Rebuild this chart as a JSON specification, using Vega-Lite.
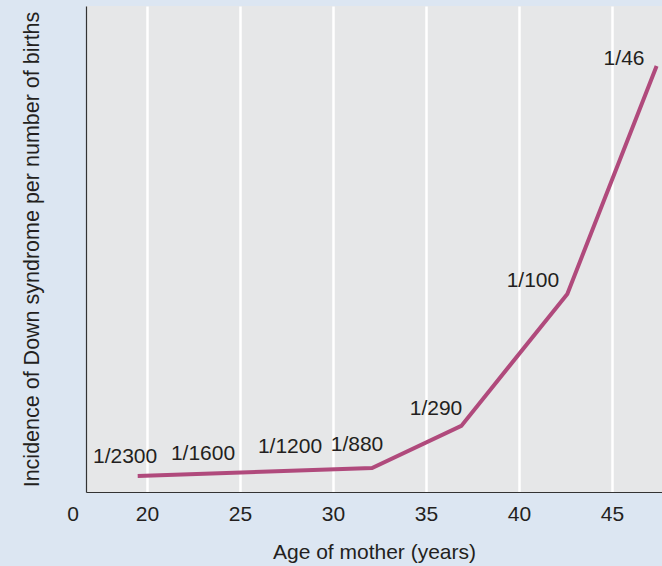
{
  "$schema": "https://vega.github.io/schema/vega-lite/v6.json",
  "width": 576,
  "height": 486,
  "autosize": {"type": "none"},
  "padding": {"left": 86, "top": 6, "right": 0, "bottom": 74},
  "background": "#dce6f2",
  "view": {"fill": "#e6e7e8", "stroke": null},
  "config": {
    "font": "Liberation Sans",
    "axis": {"labelFont": "Liberation Sans", "titleFont": "Liberation Sans", "labelColor": "#231f20", "titleColor": "#231f20", "titleFontWeight": "normal"}
  },
  "datasets": {
    "curve": [
      {"age": 19.5, "incidence": 0.00062},
      {"age": 32.1, "incidence": 0.00103},
      {"age": 36.9, "incidence": 0.0032},
      {"age": 42.6, "incidence": 0.00999},
      {"age": 47.4, "incidence": 0.02171}
    ],
    "labels": [
      {"age": 18.82, "incidence": 0.0016, "label": "1/2300"},
      {"age": 23.01, "incidence": 0.00175, "label": "1/1600"},
      {"age": 27.69, "incidence": 0.00211, "label": "1/1200"},
      {"age": 31.29, "incidence": 0.00222, "label": "1/880"},
      {"age": 35.54, "incidence": 0.00407, "label": "1/290"},
      {"age": 40.75, "incidence": 0.01065, "label": "1/100"},
      {"age": 45.65, "incidence": 0.02207, "label": "1/46"}
    ]
  },
  "layer": [
    {
      "data": {"name": "curve"},
      "mark": {"type": "line", "color": "#b04a7c", "strokeWidth": 4, "strokeCap": "butt", "strokeJoin": "miter"},
      "encoding": {
        "x": {
          "field": "age", "type": "quantitative",
          "scale": {"domain": [16.72, 47.69], "nice": false, "zero": false},
          "axis": {
            "values": [16.8, 20, 25, 30, 35, 40, 45],
            "labelExpr": "datum.value < 18 ? '0' : datum.label",
            "labelOffset": {"condition": {"test": "datum.value < 18", "value": -15}, "value": 0},
            "labelFlush": false,
            "labelOverlap": false,
            "labelBound": false,
            "title": "Age of mother (years)",
            "titleFontSize": 21,
            "titlePadding": 17,
            "labelFontSize": 21,
            "labelPadding": 11,
            "ticks": false,
            "domainColor": "#333333",
            "domainWidth": 1.2,
            "grid": true,
            "gridColor": "#ffffff",
            "gridWidth": 2.5,
            "gridOpacity": {"condition": {"test": "datum.value < 18", "value": 0}, "value": 1}
          }
        },
        "y": {
          "field": "incidence", "type": "quantitative",
          "scale": {"domain": [-0.0002, 0.0248], "nice": false, "zero": false},
          "axis": {
            "title": "Incidence of Down syndrome per number of births",
            "titleFontSize": 21.5,
            "titlePadding": 43,
            "labels": false,
            "ticks": false,
            "grid": false,
            "domainColor": "#333333",
            "domainWidth": 1.2
          }
        }
      }
    },
    {
      "data": {"name": "labels"},
      "mark": {"type": "text", "fontSize": 21, "color": "#231f20", "align": "center", "baseline": "middle", "font": "Liberation Sans"},
      "encoding": {
        "x": {"field": "age", "type": "quantitative"},
        "y": {"field": "incidence", "type": "quantitative"},
        "text": {"field": "label"}
      }
    }
  ]
}
